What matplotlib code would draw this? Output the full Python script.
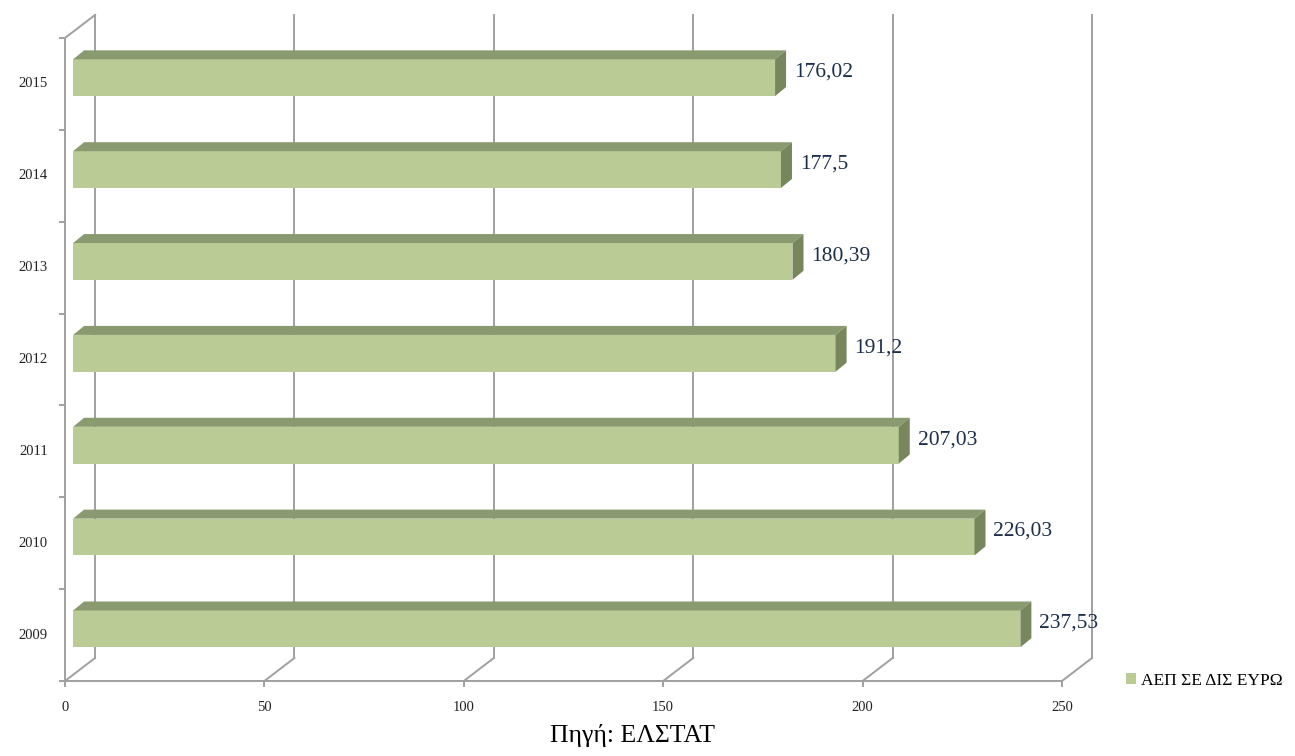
import matplotlib
matplotlib.use("Agg")
import matplotlib.pyplot as plt
from matplotlib.patches import Rectangle, Polygon, Patch

# ---- data ----
years = ["2009", "2010", "2011", "2012", "2013", "2014", "2015"]
gdp = [237.53, 226.03, 207.03, 191.2, 180.39, 177.5, 176.02]
x_ticks = [0, 50, 100, 150, 200, 250]
legend_label = "ΑΕΠ ΣΕ ΔΙΣ ΕΥΡΩ"
caption = "Πηγή: ΕΛΣΤΑΤ"

# ---- style ----
W, H = 1295, 756
fig = plt.figure(figsize=(W / 100, H / 100), dpi=100)
fig.patch.set_facecolor("white")
ax = fig.add_axes([65 / W, (H - 681) / H, (1062 - 65) / W, (681 - 38) / H])
ax.set_xlim(0, 250)
ax.set_ylim(-0.5, 6.5)
ax.axis("off")

grid_c = "#a0a0a0"
front_c = "#bbcb96"
top_c = "#8a9a70"
side_c = "#77865c"
label_c = "#1c2e4a"
serif = ["Liberation Serif", "DejaVu Serif"]

# depth offsets (data units)
DX = 30 / (997 / 250)
DY = 23 / (643 / 7)
F = 0.27            # bar front depth fraction
BDX = 11 / (997 / 250)
BDY = 9 / (643 / 7)
BH = 0.40
y0, y1 = -0.5, 6.5
lw = 1.4

# back wall gridlines and floor diagonals
for v in x_ticks:
    ax.plot([v + DX, v + DX], [y0 + DY, y1 + DY], color=grid_c, lw=lw, clip_on=False, zorder=1)
    ax.plot([v, v + DX], [y0, y0 + DY], color=grid_c, lw=lw, clip_on=False, zorder=1)
    ax.plot([v, v], [y0, y0 - 0.055], color=grid_c, lw=lw, clip_on=False, zorder=1)
    ax.text(v, y0 - 0.29, str(v), ha="center", va="center", fontsize=10.5,
            family=serif, color="#222222")
# floor front edge, left front axis, top-left diagonal
ax.plot([0, 250], [y0, y0], color=grid_c, lw=lw, clip_on=False, zorder=1)
ax.plot([0, 0], [y0, y1], color=grid_c, lw=lw, clip_on=False, zorder=1)
ax.plot([0, DX], [y1, y1 + DY], color=grid_c, lw=lw, clip_on=False, zorder=1)
# left ticks at category boundaries
for k in range(len(years) + 1):
    yb = y0 + k
    ax.plot([-1.3, 0], [yb, yb], color=grid_c, lw=lw, clip_on=False, zorder=1)

# bars
for i, (yr, v) in enumerate(zip(years, gdp)):
    x0 = F * DX
    yc = i + F * DY
    yb_, yt_ = yc - BH / 2, yc + BH / 2
    ax.add_patch(Rectangle((x0, yb_), v, BH, facecolor=front_c, edgecolor="none",
                           clip_on=False, zorder=3))
    ax.add_patch(Polygon([(x0, yt_), (x0 + v, yt_), (x0 + v + BDX, yt_ + BDY),
                          (x0 + BDX, yt_ + BDY)], closed=True, facecolor=top_c,
                         edgecolor="none", clip_on=False, zorder=3))
    ax.add_patch(Polygon([(x0 + v, yb_), (x0 + v, yt_), (x0 + v + BDX, yt_ + BDY),
                          (x0 + v + BDX, yb_ + BDY)], closed=True, facecolor=side_c,
                         edgecolor="none", clip_on=False, zorder=3))
    lab = ("%g" % v).replace(".", ",")
    ax.text(x0 + v + BDX + 2.0, yc + 0.06, lab, ha="left", va="center",
            fontsize=15.5, family=serif, color=label_c, zorder=4)
    ax.text(-4.3, i, yr, ha="right", va="center", fontsize=10.5,
            family=serif, color="#222222")

# legend
fig.legend(handles=[Patch(facecolor=front_c, edgecolor="none", label=legend_label)],
           loc="center left", bbox_to_anchor=(1110 / W, 1 - 681 / H), frameon=False,
           handlelength=0.6, handleheight=0.6, handletextpad=0.3,
           prop={"family": serif, "size": 12.5})

fig.text(632 / W, 1 - 742 / H, caption, ha="center", va="baseline", fontsize=18.5,
         family=serif, color="black")

fig.savefig("out.png", dpi=100)
